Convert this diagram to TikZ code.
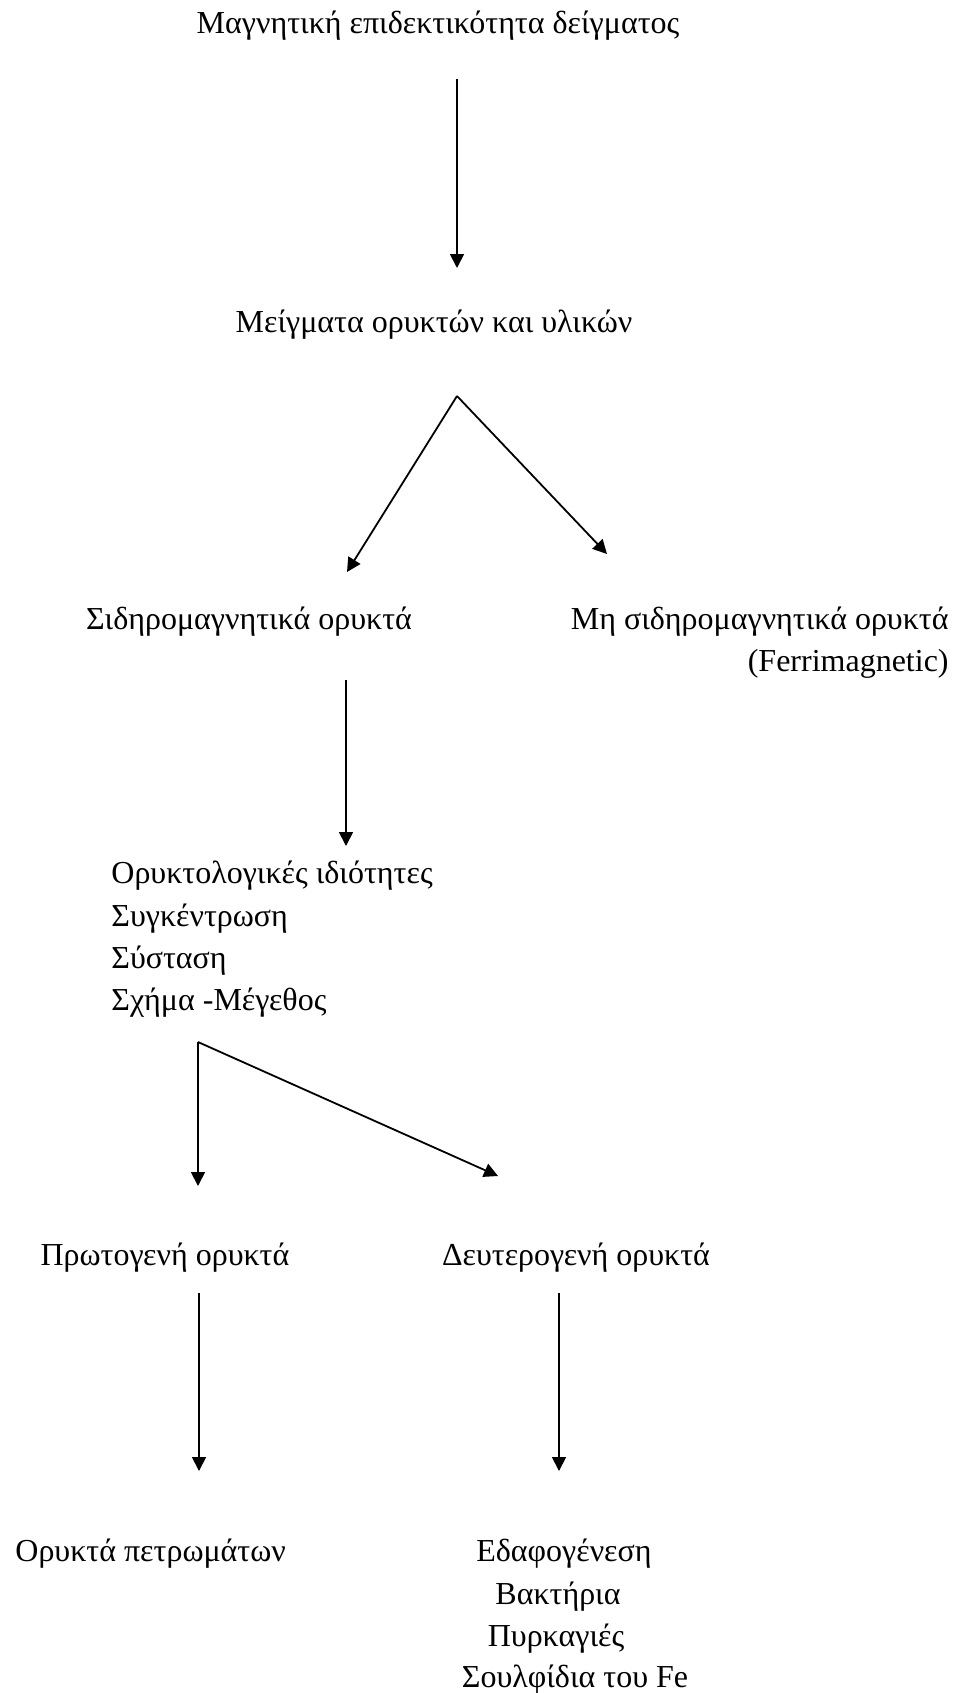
\documentclass[tikz,border=0pt]{standalone}
\usepackage{fontspec}
\setmainfont{Liberation Serif}
\usetikzlibrary{arrows.meta}
\begin{document}
\begin{tikzpicture}[x=0.5pt,y=-0.5pt,
  lbl/.style={inner sep=0pt, font=\fontsize{16}{19}\selectfont},
  arr/.style={line width=0.9pt, -{Triangle[length=7pt,width=7pt]}}]
\useasboundingbox (0,0) rectangle (960,1693);
% texts
\node[lbl,anchor=base] (t) at (438,33) {Μαγνητική επιδεκτικότητα δείγματος};
\node[lbl,anchor=base] (m) at (434,332) {Μείγματα ορυκτών και υλικών};
\node[lbl,anchor=base] (s) at (249,629) {Σιδηρομαγνητικά ορυκτά};
\node[lbl,anchor=base east] (ns) at (949,629) {Μη σιδηρομαγνητικά ορυκτά};
\node[lbl,anchor=base east] (fe) at (949,671) {(Ferrimagnetic)};
\node[lbl,anchor=base west] (p1) at (111,883) {Ορυκτολογικές ιδιότητες};
\node[lbl,anchor=base west] (p2) at (111,926) {Συγκέντρωση};
\node[lbl,anchor=base west] (p3) at (111,968) {Σύσταση};
\node[lbl,anchor=base west] (p4) at (111,1010) {Σχήμα -Μέγεθος};
\node[lbl,anchor=base] (pr) at (165,1265) {Πρωτογενή ορυκτά};
\node[lbl,anchor=base] (dv) at (576,1265) {Δευτερογενή ορυκτά};
\node[lbl,anchor=base west] (op) at (15,1561) {Ορυκτά πετρωμάτων};
\node[lbl,anchor=base] (d1) at (564,1561) {Εδαφογένεση};
\node[lbl,anchor=base] (d2) at (558,1604) {Βακτήρια};
\node[lbl,anchor=base] (d3) at (556,1646) {Πυρκαγιές};
\node[lbl,anchor=base] (d4) at (575,1687) {Σουλφίδια του Fe};
% connector ends
\coordinate (a1s) at (457,79);
\coordinate (a1e) at (457,268);
\coordinate (f1) at (457,396);
\coordinate (f1l) at (347,572);
\coordinate (f1r) at (607,554);
\coordinate (a3s) at (346,680);
\coordinate (a3e) at (346,846);
\coordinate (f2) at (198,1042);
\coordinate (f2l) at (198,1186);
\coordinate (f2r) at (498,1176);
\coordinate (a5s) at (199,1293);
\coordinate (a5e) at (199,1471);
\coordinate (a6s) at (559,1293);
\coordinate (a6e) at (559,1471);
% connectors
\draw[arr] (a1s) -- (a1e);
\draw[arr] (f1) -- (f1l);
\draw[arr] (f1) -- (f1r);
\draw[arr] (a3s) -- (a3e);
\draw[arr] (f2) -- (f2l);
\draw[arr] (f2) -- (f2r);
\draw[arr] (a5s) -- (a5e);
\draw[arr] (a6s) -- (a6e);
\end{tikzpicture}
\end{document}
